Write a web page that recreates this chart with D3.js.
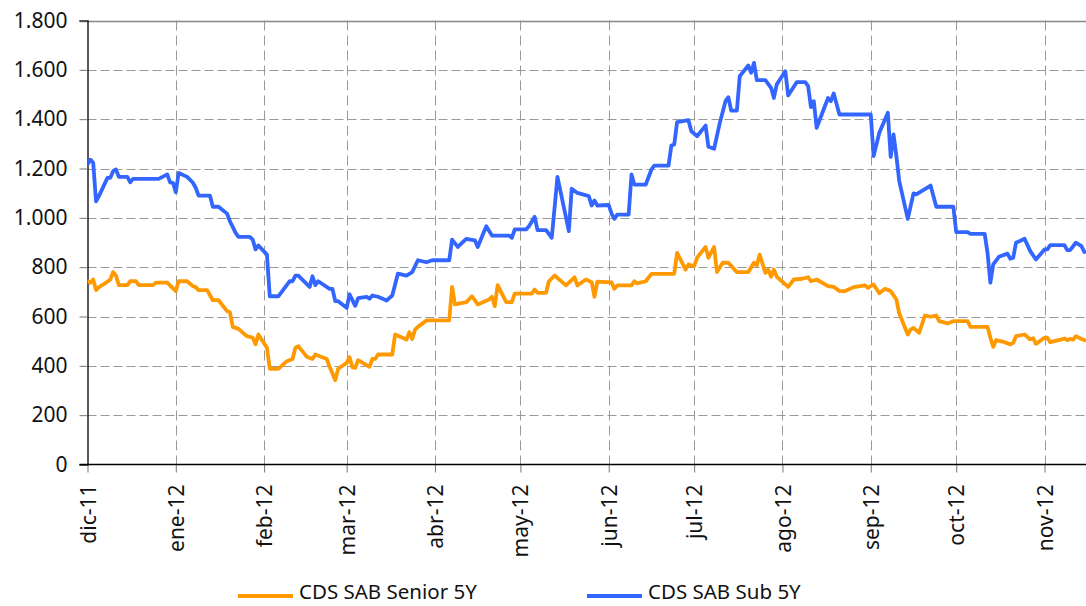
<!DOCTYPE html>
<html><head><meta charset="utf-8">
<script src="https://cdn.jsdelivr.net/npm/d3@7/dist/d3.min.js"></script>
<style>html,body{margin:0;padding:0;background:#fff;}svg{display:block;}</style>
</head><body>
<svg id="c" width="1086" height="606"></svg>
<script>
const seriesNames = ["CDS SAB Senior 5Y", "CDS SAB Sub 5Y"];
const yTicks = [0, 200, 400, 600, 800, 1000, 1200, 1400, 1600, 1800];
const monthTicks = ["2011-12-01","2012-01-01","2012-02-01","2012-03-01","2012-04-01","2012-05-01","2012-06-01","2012-07-01","2012-08-01","2012-09-01","2012-10-01","2012-11-01"];
const monthLabels = ["dic-11","ene-12","feb-12","mar-12","abr-12","may-12","jun-12","jul-12","ago-12","sep-12","oct-12","nov-12"];

const senior = [
["2011-12-01",743],["2011-12-02",737],["2011-12-03",750],["2011-12-04",707],["2011-12-05",719],["2011-12-07",733],["2011-12-09",750],["2011-12-10",780],["2011-12-11",766],["2011-12-12",727],["2011-12-15",727],["2011-12-16",743],["2011-12-18",743],["2011-12-19",727],["2011-12-24",727],["2011-12-25",737],["2011-12-29",737],
["2012-01-01",703],["2012-01-02",743],["2012-01-05",743],["2012-01-07",723],["2012-01-08",719],["2012-01-09",707],["2012-01-12",707],["2012-01-14",666],["2012-01-16",666],["2012-01-19",622],["2012-01-20",617],["2012-01-21",558],["2012-01-23",550],["2012-01-26",520],["2012-01-28",514],["2012-01-29",487],["2012-01-30",527],
["2012-02-02",473],["2012-02-03",388],["2012-02-06",388],["2012-02-09",419],["2012-02-11",428],["2012-02-12",473],["2012-02-13",480],["2012-02-16",437],["2012-02-18",428],["2012-02-19",446],["2012-02-23",428],["2012-02-24",396],["2012-02-26",342],["2012-02-27",388],
["2012-03-01",412],["2012-03-02",435],["2012-03-03",394],["2012-03-04",392],["2012-03-05",423],["2012-03-09",396],["2012-03-10",428],["2012-03-11",428],["2012-03-12",446],["2012-03-17",446],["2012-03-18",527],["2012-03-22",507],["2012-03-23",536],["2012-03-24",509],["2012-03-25",547],["2012-03-26",558],["2012-03-29",584],
["2012-04-06",584],["2012-04-07",720],["2012-04-08",649],["2012-04-12",658],["2012-04-14",682],["2012-04-16",649],["2012-04-20",669],["2012-04-21",680],["2012-04-22",642],["2012-04-23",727],["2012-04-26",658],["2012-04-28",658],["2012-04-29",693],
["2012-05-05",693],["2012-05-06",709],["2012-05-07",696],["2012-05-10",696],["2012-05-11",743],["2012-05-13",766],["2012-05-17",726],["2012-05-20",759],["2012-05-21",726],["2012-05-24",750],["2012-05-26",739],["2012-05-27",680],["2012-05-28",741],
["2012-06-02",738],["2012-06-03",712],["2012-06-04",726],["2012-06-09",726],["2012-06-10",743],["2012-06-11",734],["2012-06-14",743],["2012-06-16",773],["2012-06-24",773],["2012-06-25",858],["2012-06-28",790],["2012-06-29",811],
["2012-07-01",804],["2012-07-02",838],["2012-07-05",882],["2012-07-06",838],["2012-07-08",882],["2012-07-09",780],["2012-07-11",818],["2012-07-13",818],["2012-07-16",780],["2012-07-20",780],["2012-07-22",818],["2012-07-23",807],["2012-07-24",851],["2012-07-26",777],["2012-07-27",790],["2012-07-28",761],["2012-07-29",790],["2012-07-30",761],
["2012-08-03",720],["2012-08-05",750],["2012-08-08",753],["2012-08-10",759],["2012-08-11",743],["2012-08-13",750],["2012-08-17",723],["2012-08-19",720],["2012-08-21",703],["2012-08-23",703],["2012-08-26",719],["2012-08-30",726],["2012-08-31",716],
["2012-09-02",730],["2012-09-04",694],["2012-09-06",712],["2012-09-08",703],["2012-09-10",669],["2012-09-11",612],["2012-09-14",527],["2012-09-15",547],["2012-09-16",554],["2012-09-18",534],["2012-09-20",604],["2012-09-22",599],["2012-09-24",604],["2012-09-25",581],["2012-09-28",572],["2012-09-30",581],
["2012-10-05",581],["2012-10-06",558],["2012-10-12",558],["2012-10-13",514],["2012-10-14",477],["2012-10-15",504],["2012-10-18",496],["2012-10-20",487],["2012-10-21",493],["2012-10-22",520],["2012-10-25",527],["2012-10-27",507],["2012-10-28",512],["2012-10-29",489],
["2012-11-01",514],["2012-11-02",514],["2012-11-03",496],["2012-11-07",507],["2012-11-08",511],["2012-11-09",504],["2012-11-10",509],["2012-11-11",506],["2012-11-12",520],["2012-11-15",504]
];

const sub = [
["2011-12-01",1216],["2011-12-02",1236],["2011-12-03",1223],["2011-12-04",1067],["2011-12-05",1088],["2011-12-08",1162],["2011-12-09",1162],["2011-12-10",1189],["2011-12-11",1196],["2011-12-12",1166],["2011-12-15",1166],["2011-12-16",1144],["2011-12-17",1158],["2011-12-26",1158],["2011-12-29",1176],["2011-12-30",1144],["2011-12-31",1142],
["2012-01-01",1104],["2012-01-02",1182],["2012-01-05",1166],["2012-01-07",1142],["2012-01-08",1122],["2012-01-09",1090],["2012-01-13",1090],["2012-01-14",1045],["2012-01-16",1045],["2012-01-19",1017],["2012-01-20",986],["2012-01-22",939],["2012-01-23",923],["2012-01-27",923],["2012-01-28",912],["2012-01-29",872],["2012-01-30",888],
["2012-02-02",851],["2012-02-03",682],["2012-02-06",682],["2012-02-10",743],["2012-02-11",743],["2012-02-12",766],["2012-02-13",766],["2012-02-17",720],["2012-02-18",763],["2012-02-19",727],["2012-02-20",743],["2012-02-24",712],["2012-02-25",712],["2012-02-26",662],["2012-02-27",662],
["2012-03-01",635],["2012-03-02",690],["2012-03-04",643],["2012-03-05",674],["2012-03-08",680],["2012-03-09",672],["2012-03-10",685],["2012-03-12",680],["2012-03-15",665],["2012-03-17",685],["2012-03-19",774],["2012-03-22",766],["2012-03-24",780],["2012-03-26",828],["2012-03-29",820],["2012-03-31",828],
["2012-04-06",828],["2012-04-07",912],["2012-04-09",882],["2012-04-12",915],["2012-04-15",909],["2012-04-16",882],["2012-04-19",966],["2012-04-21",928],["2012-04-27",928],["2012-04-28",919],["2012-04-29",953],
["2012-05-03",953],["2012-05-04",966],["2012-05-06",1004],["2012-05-07",950],["2012-05-10",950],["2012-05-12",919],["2012-05-14",1166],["2012-05-18",946],["2012-05-19",1118],["2012-05-21",1101],["2012-05-25",1088],["2012-05-26",1050],["2012-05-27",1070],["2012-05-28",1050],
["2012-06-01",1052],["2012-06-02",1017],["2012-06-03",996],["2012-06-04",1013],["2012-06-08",1013],["2012-06-09",1176],["2012-06-10",1135],["2012-06-14",1135],["2012-06-16",1196],["2012-06-17",1212],["2012-06-22",1212],["2012-06-23",1293],["2012-06-24",1297],["2012-06-25",1388],["2012-06-29",1396],["2012-06-30",1351],
["2012-07-02",1331],["2012-07-05",1374],["2012-07-06",1288],["2012-07-08",1280],["2012-07-10",1385],["2012-07-12",1473],["2012-07-13",1489],["2012-07-14",1435],["2012-07-16",1435],["2012-07-17",1574],["2012-07-20",1618],["2012-07-21",1588],["2012-07-22",1628],["2012-07-23",1558],["2012-07-26",1558],["2012-07-28",1527],["2012-07-29",1486],["2012-07-30",1541],
["2012-08-02",1594],["2012-08-03",1496],["2012-08-06",1550],["2012-08-09",1550],["2012-08-10",1534],["2012-08-11",1449],["2012-08-12",1473],["2012-08-13",1365],["2012-08-17",1486],["2012-08-18",1473],["2012-08-19",1504],["2012-08-21",1419],
["2012-09-01",1419],["2012-09-02",1250],["2012-09-04",1345],["2012-09-07",1426],["2012-09-08",1247],["2012-09-09",1338],["2012-09-10",1250],["2012-09-11",1149],["2012-09-14",996],["2012-09-16",1099],["2012-09-17",1095],["2012-09-22",1131],["2012-09-24",1045],["2012-09-30",1045],
["2012-10-01",942],["2012-10-05",942],["2012-10-06",935],["2012-10-11",935],["2012-10-12",858],["2012-10-13",737],["2012-10-14",811],["2012-10-16",842],["2012-10-19",855],["2012-10-20",834],["2012-10-21",838],["2012-10-22",899],["2012-10-25",915],["2012-10-27",865],["2012-10-29",831],
["2012-11-01",872],["2012-11-02",872],["2012-11-03",889],["2012-11-08",889],["2012-11-09",869],["2012-11-10",869],["2012-11-12",899],["2012-11-14",885],["2012-11-15",861]
];

const colors = ["#ff9900", "#3366ff"];

const parse = d3.timeParse("%Y-%m-%d");
const svg = d3.select("#c");
const W = 1086, H = 606;
const x0 = 87.5, yBottom = 464.5, yTop = 20.5;

const x = d3.scaleTime()
  .domain([parse(monthTicks[0]), parse(monthTicks[monthTicks.length - 1])])
  .range([x0, 1044.5]);
const y = d3.scaleLinear().domain([0, 1800]).range([yBottom, yTop]);

const font = "'Noto Sans', 'Open Sans', sans-serif";

svg.append("defs").append("clipPath").attr("id", "plot")
  .append("rect").attr("x", x0).attr("y", 0).attr("width", W - x0).attr("height", yBottom + 2);

const g = svg.append("g");
g.selectAll("line.hg").data(yTicks.filter(v => v > 0 && v < 1800)).enter().append("line")
  .attr("x1", x0).attr("x2", W).attr("y1", d => Math.round(y(d)) + 0.5).attr("y2", d => Math.round(y(d)) + 0.5)
  .attr("stroke", "#999").attr("stroke-width", 1).attr("stroke-dasharray", "9,4");
g.selectAll("line.vg").data(monthTicks.slice(1)).enter().append("line")
  .attr("x1", d => Math.round(x(parse(d))) + 0.5).attr("x2", d => Math.round(x(parse(d))) + 0.5)
  .attr("y1", y(1800)).attr("y2", yBottom)
  .attr("stroke", "#999").attr("stroke-width", 1).attr("stroke-dasharray", "10,5");
g.append("line").attr("x1", x0 - 8).attr("x2", W).attr("y1", Math.round(y(1800)) + 0.5).attr("y2", Math.round(y(1800)) + 0.5)
  .attr("stroke", "#888").attr("stroke-width", 1.5);

const yAxis = d3.axisLeft(y).tickValues(yTicks).tickSize(8).tickPadding(12)
  .tickFormat(d => d3.format(",")(d).replace(/,/g, "."));
const ya = svg.append("g").attr("transform", `translate(${x0},0)`).call(yAxis);
ya.select(".domain").attr("stroke", "#000").attr("stroke-width", 1.3);
ya.selectAll(".tick line").attr("stroke", "#777");
ya.selectAll(".tick text").attr("font-family", font).attr("font-size", 21).attr("fill", "#111");

const xAxis = d3.axisBottom(x).tickValues(monthTicks.map(parse)).tickSize(8)
  .tickFormat((d, i) => monthLabels[i]);
const xa = svg.append("g").attr("transform", `translate(0,${yBottom})`).call(xAxis);
xa.select(".domain").remove();
xa.append("line").attr("x1", x0 - 8).attr("x2", W).attr("y1", 0).attr("y2", 0).attr("stroke", "#000").attr("stroke-width", 1.3);
xa.selectAll(".tick line").attr("stroke", "#777");
xa.selectAll(".tick text")
  .attr("font-family", font).attr("font-size", 21).attr("fill", "#111")
  .attr("text-anchor", "end").attr("transform", "rotate(-90)")
  .attr("x", -20).attr("y", 0).attr("dy", "0.36em");

const line = d3.line().x(d => x(parse(d[0]))).y(d => y(d[1]));
const lines = svg.append("g").attr("clip-path", "url(#plot)");
[senior, sub].forEach((s, i) => {
  lines.append("path").attr("d", line(s)).attr("fill", "none")
    .attr("stroke", colors[i]).attr("stroke-width", 3.8)
    .attr("stroke-linejoin", "round").attr("stroke-linecap", "round");
});

const legendX = [238, 587];
seriesNames.forEach((n, i) => {
  const lg = svg.append("g").attr("transform", `translate(${legendX[i]},596)`);
  lg.append("line").attr("x1", 0).attr("x2", 55).attr("y1", 0).attr("y2", 0)
    .attr("stroke", colors[i]).attr("stroke-width", 4);
  lg.append("text").attr("x", 61).attr("y", 3).attr("font-family", font).attr("font-size", 20.5)
    .attr("fill", "#111").text(n);
});
</script>
</body></html>
